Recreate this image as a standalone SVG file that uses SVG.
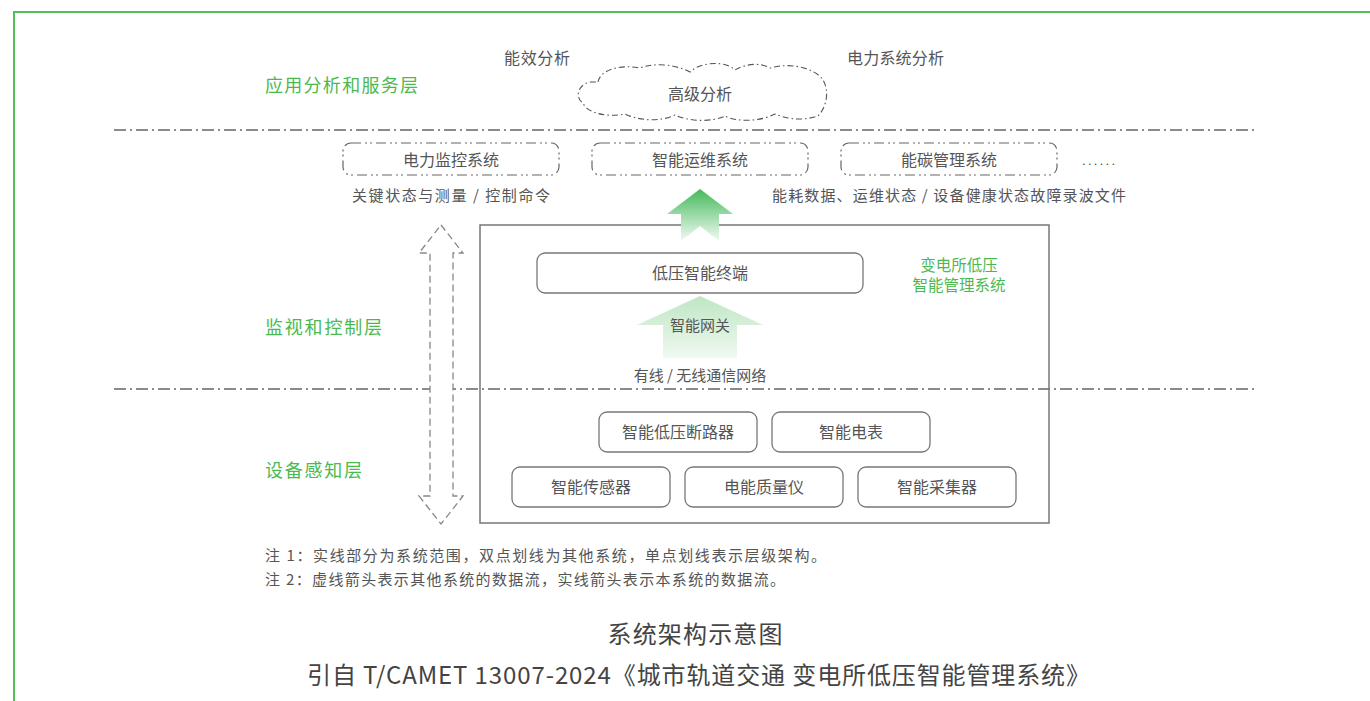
<svg xmlns="http://www.w3.org/2000/svg" width="1370" height="701" viewBox="0 0 1370 701">
<defs>
<style>
text{font-family:"Noto Sans CJK SC","Noto Sans",sans-serif;fill:#555}
.t16{font-size:16px}
.t15{font-size:15px}
.mid{text-anchor:middle}
.layer{font-size:18px;fill:#4cb950}
.green{font-size:15.5px;fill:#4cb950}
.sep{stroke:#666;stroke-width:1.5;stroke-dasharray:12 4 2 4;fill:none}
.other{fill:none;stroke:#666;stroke-width:1.2;stroke-dasharray:10 4 2 3 2 4}
.box{fill:#fff;stroke:#777;stroke-width:1.3}
.cap{font-size:24px;fill:#444}
</style>
<linearGradient id="g1" x1="0" y1="0" x2="0" y2="1">
<stop offset="0" stop-color="#44b95a"/>
<stop offset="1" stop-color="#f2faf3"/>
</linearGradient>
<linearGradient id="g2" x1="0" y1="0" x2="0" y2="1">
<stop offset="0" stop-color="#bfe6c4"/>
<stop offset="1" stop-color="#f0f9f1"/>
</linearGradient>
</defs>
<rect width="1370" height="701" fill="#fff"/>
<path d="M14 701 V12 H1372" fill="none" stroke="#52c05a" stroke-width="2"/>

<g id="layers">
<text class="layer" x="265" y="92" textLength="153">应用分析和服务层</text>
<text class="layer" x="265" y="334" textLength="117">监视和控制层</text>
<text class="layer" x="265" y="477" textLength="97">设备感知层</text>
</g>

<g id="separators">
<line class="sep" x1="114" y1="130" x2="1255" y2="130"/>
<line class="sep" x1="114" y1="389" x2="1255" y2="389"/>
</g>

<g id="cloud">
<path d="M598 82 C600 70 620 64 640 68 C650 64 670 62 690 72 C700 62 725 60 735 70 C745 64 760 62 770 68 C790 62 815 68 823 80 C830 92 826 108 818 116 C800 122 785 118 775 114 C760 122 735 122 725 116 C712 122 690 122 675 115 C660 122 640 121 625 114 C605 118 586 112 583 103 C575 98 577 85 590 82 Z" fill="#fff" stroke="#555" stroke-width="1.1" stroke-dasharray="6 3 1.5 3"/>
<text class="t16 mid" x="700" y="100">高级分析</text>
</g>
<g id="label-energy"><text class="t16" x="504" y="64" textLength="66">能效分析</text></g>
<g id="label-power"><text class="t16" x="847" y="64" textLength="97">电力系统分析</text></g>

<g id="sys-monitor">
<rect class="other" x="343" y="143" width="216" height="32" rx="8"/>
<text class="t16 mid" x="451" y="166">电力监控系统</text>
</g>
<g id="sys-om">
<rect class="other" x="592" y="143" width="216" height="32" rx="8"/>
<text class="t16 mid" x="700" y="166">智能运维系统</text>
</g>
<g id="sys-carbon">
<rect class="other" x="841" y="143" width="216" height="32" rx="8"/>
<text class="t16 mid" x="949" y="166">能碳管理系统</text>
</g>
<g id="more"><text x="1082" y="165" style="font-family:'Liberation Sans',sans-serif;font-size:13px;fill:#444" textLength="33">......</text></g>

<g id="flow-labels">
<text class="t15" x="352" y="201" textLength="198">关键状态与测量 / 控制命令</text>
<text class="t15" x="772" y="201" textLength="354">能耗数据、运维状态 / 设备健康状态故障录波文件</text>
</g>

<g id="system-box">
<rect x="480" y="225" width="569" height="298" fill="none" stroke="#777" stroke-width="1.5"/>
<text class="green mid" x="959" y="271">变电所低压</text>
<text class="green mid" x="959" y="291">智能管理系统</text>
</g>

<g id="connectors">
<polygon points="441,225 463,253 453,253 453,496 463,496 441,524 419,496 430,496 430,253 419,253" fill="#fff" stroke="#888" stroke-width="1.3" stroke-dasharray="7 4"/>
<polygon points="700,189 733,214 719,214 719,241 700,226 681,241 681,214 667,214" fill="url(#g1)"/>
<polygon points="700,296 763,325 737,325 737,358 663,358 663,325 637,325" fill="url(#g2)"/>
<text class="t15 mid" x="700" y="331">智能网关</text>
<text class="t15 mid" x="700" y="381">有线 / 无线通信网络</text>
</g>

<g id="terminal">
<rect class="box" x="537" y="253" width="326" height="40" rx="8"/>
<text class="t16 mid" x="700" y="279">低压智能终端</text>
</g>

<g id="breaker">
<rect class="box" x="599" y="412" width="158" height="40" rx="8"/>
<text class="t16 mid" x="678" y="438">智能低压断路器</text>
</g>
<g id="meter">
<rect class="box" x="772" y="412" width="158" height="40" rx="8"/>
<text class="t16 mid" x="851" y="438">智能电表</text>
</g>
<g id="sensor">
<rect class="box" x="512" y="467" width="158" height="40" rx="8"/>
<text class="t16 mid" x="591" y="493">智能传感器</text>
</g>
<g id="pq">
<rect class="box" x="685" y="467" width="158" height="40" rx="8"/>
<text class="t16 mid" x="764" y="493">电能质量仪</text>
</g>
<g id="collector">
<rect class="box" x="858" y="467" width="158" height="40" rx="8"/>
<text class="t16 mid" x="937" y="493">智能采集器</text>
</g>

<g id="notes">
<text class="t15" x="265" y="561" textLength="561">注 1：实线部分为系统范围，双点划线为其他系统，单点划线表示层级架构。</text>
<text class="t15" x="265" y="585" textLength="520">注 2：虚线箭头表示其他系统的数据流，实线箭头表示本系统的数据流。</text>
</g>

<g id="caption">
<text class="cap mid" x="695" y="643" textLength="175">系统架构示意图</text>
<text class="cap" x="307" y="684" textLength="783">引自 T/CAMET 13007-2024《城市轨道交通 变电所低压智能管理系统》</text>
</g>
</svg>
